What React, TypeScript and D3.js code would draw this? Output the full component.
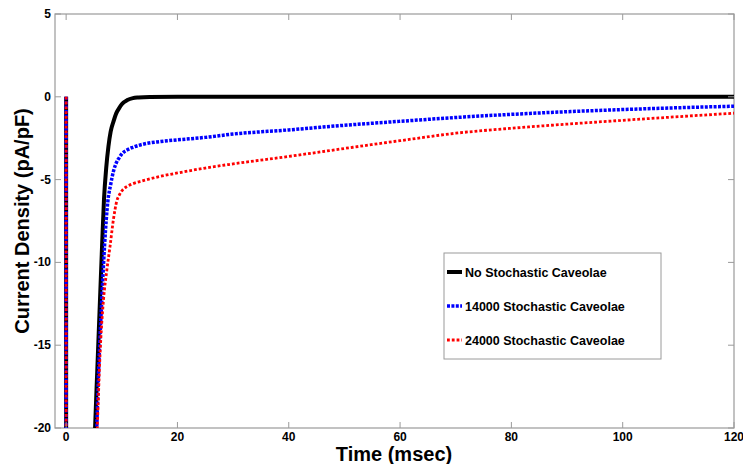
import * as d3 from "d3";
import { useEffect, useRef } from "react";

// time (msec) / current density (pA/pF)
const blackT = [0, 0.01, 4.6, 5.2, 5.6, 6.0, 6.4, 6.8, 7.2, 7.6, 8.0, 8.5, 9, 9.5, 10, 11, 12, 13, 15, 20, 120];
const blackV = [0, -60, -28, -20, -16.5, -13, -9.5, -6.2, -4.3, -3.0, -2.1, -1.5, -1.0, -0.7, -0.45, -0.2, -0.08, -0.04, -0.01, 0, 0];

const blueT = [0, 0.01, 4.8, 5.5, 5.9, 6.4, 6.9, 7.5, 8, 8.5, 9, 9.5, 10, 11, 12, 14, 17, 20, 25, 30, 40, 50, 60, 70, 80, 90, 100, 110, 120];
const blueV = [0, -60, -28, -20, -16, -12.3, -9, -6.3, -5.3, -4.5, -4.0, -3.7, -3.45, -3.2, -3.05, -2.85, -2.7, -2.6, -2.45, -2.25, -2.0, -1.72, -1.48, -1.25, -1.06, -0.9, -0.77, -0.66, -0.57];

const redT = [0, 0.01, 4.8, 5.6, 6.1, 6.7, 7.3, 7.9, 8.5, 9.1, 9.6, 10.2, 11, 12, 14, 17, 20, 25, 30, 40, 50, 60, 70, 80, 90, 100, 110, 120];
const redV = [0, -60, -28, -20, -15.5, -12.3, -10.5, -9.0, -7.4, -6.3, -5.9, -5.6, -5.4, -5.25, -5.05, -4.8, -4.6, -4.3, -4.05, -3.6, -3.12, -2.65, -2.2, -1.9, -1.65, -1.42, -1.2, -0.99];

const xTicks = [0, 20, 40, 60, 80, 100, 120];
const yTicks = [5, 0, -5, -10, -15, -20];

const seriesNames = ["No Stochastic Caveolae", "14000 Stochastic Caveolae", "24000 Stochastic Caveolae"];

const W = 743;
const H = 464;
const FONT = "Arial, 'Liberation Sans', sans-serif";

export default function App() {
  const svgRef = useRef<SVGSVGElement>(null);

  useEffect(() => {
    const svg = d3.select(svgRef.current);
    svg.selectAll("*").remove();

    const left = 55, right = 734, top = 14, bottom = 428;
    const x = d3.scaleLinear().domain([-2, 120]).range([left, right]);
    const y = d3.scaleLinear().domain([-20, 5]).range([bottom, top]);

    svg.append("rect").attr("width", W).attr("height", H).attr("fill", "white");

    svg.append("clipPath").attr("id", "plot-clip")
      .append("rect")
      .attr("x", left).attr("y", top)
      .attr("width", right - left).attr("height", bottom - top);

    const axisColor = "#9a9a9a";
    const tickLen = 6;

    // box
    svg.append("rect")
      .attr("x", left).attr("y", top)
      .attr("width", right - left).attr("height", bottom - top)
      .attr("fill", "none").attr("stroke", axisColor).attr("stroke-width", 1.2);

    const g = svg.append("g").attr("clip-path", "url(#plot-clip)");

    const line = d3.line<[number, number]>()
      .x((d) => x(d[0]))
      .y((d) => y(d[1]))
      .curve(d3.curveMonotoneX);

    const series = [
      { t: blackT, v: blackV, color: "#000000", width: 4, dash: null },
      { t: blueT, v: blueV, color: "#0000ff", width: 3.5, dash: "3,1.4" },
      { t: redT, v: redV, color: "#ff0000", width: 2.8, dash: "2.8,2" },
    ];

    series.forEach((s) => {
      const pts = s.t.map((t, i) => [t, s.v[i]] as [number, number]);
      g.append("path")
        .attr("d", line(pts))
        .attr("fill", "none")
        .attr("stroke", s.color)
        .attr("stroke-width", s.width)
        .attr("stroke-dasharray", s.dash);
    });

    // ticks on all four sides, pointing inward
    xTicks.forEach((t) => {
      svg.append("line").attr("x1", x(t)).attr("x2", x(t)).attr("y1", bottom).attr("y2", bottom - tickLen)
        .attr("stroke", axisColor);
      svg.append("line").attr("x1", x(t)).attr("x2", x(t)).attr("y1", top).attr("y2", top + tickLen)
        .attr("stroke", axisColor);
      svg.append("text")
        .attr("x", x(t)).attr("y", bottom + 13)
        .attr("text-anchor", "middle")
        .attr("font-family", FONT).attr("font-weight", "bold").attr("font-size", 12)
        .text(t);
    });
    yTicks.forEach((v) => {
      svg.append("line").attr("x1", left).attr("x2", left + tickLen).attr("y1", y(v)).attr("y2", y(v))
        .attr("stroke", axisColor);
      svg.append("line").attr("x1", right).attr("x2", right - tickLen).attr("y1", y(v)).attr("y2", y(v))
        .attr("stroke", axisColor);
      svg.append("text")
        .attr("x", left - 4).attr("y", y(v) + 4)
        .attr("text-anchor", "end")
        .attr("font-family", FONT).attr("font-weight", "bold").attr("font-size", 12)
        .text(v);
    });

    // axis labels
    svg.append("text")
      .attr("x", 394).attr("y", 461)
      .attr("text-anchor", "middle")
      .attr("font-family", FONT).attr("font-weight", "bold").attr("font-size", 20)
      .text("Time (msec)");
    svg.append("text")
      .attr("transform", `translate(29,${(top + bottom) / 2}) rotate(-90)`)
      .attr("text-anchor", "middle")
      .attr("font-family", FONT).attr("font-weight", "bold").attr("font-size", 20)
      .text("Current Density (pA/pF)");

    // legend
    const lg = svg.append("g");
    lg.append("rect")
      .attr("x", 444).attr("y", 253).attr("width", 217).attr("height", 106)
      .attr("fill", "white").attr("stroke", axisColor).attr("stroke-width", 1);
    seriesNames.forEach((name, i) => {
      const cy = 272 + i * 34;
      const s = series[i];
      lg.append("line")
        .attr("x1", 447).attr("x2", 462).attr("y1", cy).attr("y2", cy)
        .attr("stroke", s.color).attr("stroke-width", s.width)
        .attr("stroke-dasharray", s.dash);
      lg.append("text")
        .attr("x", 465).attr("y", cy + 4.5)
        .attr("font-family", FONT).attr("font-weight", "bold").attr("font-size", 12.5)
        .text(name);
    });
  }, []);

  return (
    <svg
      ref={svgRef}
      width={W}
      height={H}
      style={{ position: "absolute", left: 0, top: 0, display: "block" }}
    />
  );
}
